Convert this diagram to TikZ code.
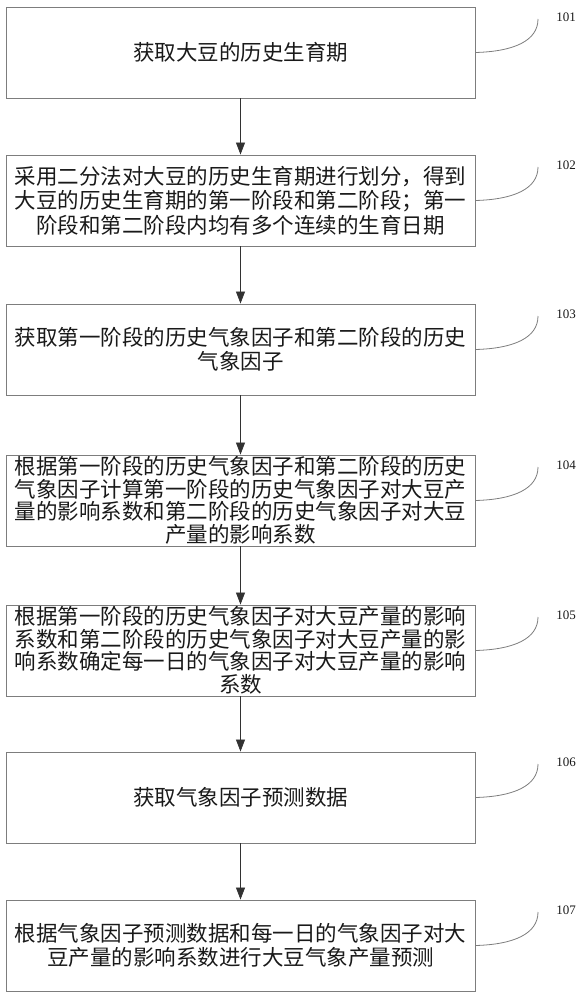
\documentclass[tikz,border=0pt]{standalone}
\usepackage{fontspec}
\setmainfont{Liberation Serif}
\newfontfamily\cjk{Noto Sans CJK SC}
\usetikzlibrary{arrows.meta}
\definecolor{boxgray}{RGB}{125,125,125}
\definecolor{arrcol}{RGB}{50,50,50}
\definecolor{textcol}{RGB}{25,25,25}
\begin{document}
\begin{tikzpicture}[x=1pt,y=-1pt,
  box/.style={draw=boxgray, line width=0.9pt, minimum width=469pt, minimum height=91pt,
    inner sep=0pt, align=center, text=textcol, font=\cjk\fontsize{21.5}{24.5}\selectfont},
  tightbox/.style={box, font=\cjk\fontsize{21.5}{22.5}\selectfont},
  flow/.style={draw=arrcol, line width=0.8pt, -{Triangle[width=9pt,length=12pt]}},
  lead/.style={draw=boxgray, line width=0.8pt},
  lab/.style={font=\fontsize{13}{15}\selectfont, text=textcol, inner sep=0pt}]
\useasboundingbox (0,0) rectangle (585,1000);

\node[box] (s1) at (240.5,52.5) {获取大豆的历史生育期};
\node[box] (s2) at (240.5,200.5) {采用二分法对大豆的历史生育期进行划分，得到\\大豆的历史生育期的第一阶段和第二阶段；第一\\阶段和第二阶段内均有多个连续的生育日期};
\node[box] (s3) at (240.5,349.5) {获取第一阶段的历史气象因子和第二阶段的历史\\气象因子};
\node[tightbox] (s4) at (240.5,500.5) {根据第一阶段的历史气象因子和第二阶段的历史\\气象因子计算第一阶段的历史气象因子对大豆产\\量的影响系数和第二阶段的历史气象因子对大豆\\产量的影响系数};
\node[tightbox] (s5) at (240.5,650.5) {根据第一阶段的历史气象因子对大豆产量的影响\\系数和第二阶段的历史气象因子对大豆产量的影\\响系数确定每一日的气象因子对大豆产量的影响\\系数};
\node[box] (s6) at (240.5,797.5) {获取气象因子预测数据};
\node[box] (s7) at (240.5,945.5) {根据气象因子预测数据和每一日的气象因子对大\\豆产量的影响系数进行大豆气象产量预测};

\foreach \a/\b in {s1/s2,s2/s3,s3/s4,s4/s5,s5/s6,s6/s7}
  \draw[flow] (\a.south) -- (\b.north);

\foreach \i/\t in {1/7,2/155,3/304,4/455,5/605,6/752,7/900}{
  \coordinate (c\i) at (538,\t+12);
  \node[lab] (l\i) at (566,\t+10) {10\i};
  \draw[lead] (s\i.east) .. controls +(38,-1) and +(0,22) .. (c\i);
}
\end{tikzpicture}
\end{document}
